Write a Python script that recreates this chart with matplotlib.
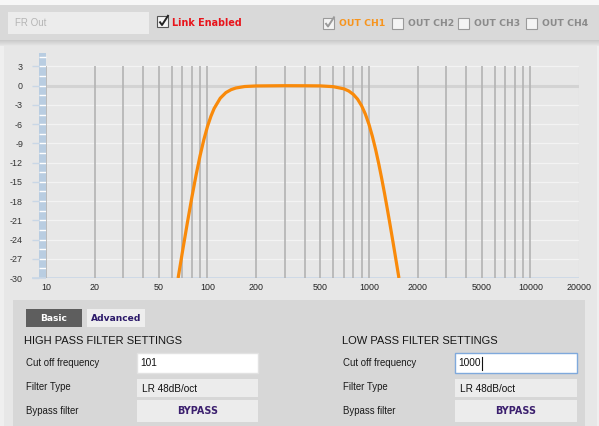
import numpy as np
import matplotlib
matplotlib.use("Agg")
import matplotlib.pyplot as plt
from matplotlib.patches import Rectangle
from matplotlib.transforms import blended_transform_factory

# ---------------- data ----------------
# Response of HPF 101 Hz + LPF 1000 Hz (LR 48 dB/oct)
freq_hz = [65.8, 70, 75, 80, 85, 90, 95, 100, 105, 110, 120, 130, 140, 150, 170,
           200, 300, 400, 500, 600, 700, 750, 800, 850, 900, 950, 1000, 1050,
           1100, 1150, 1200, 1250, 1300, 1350, 1400, 1450, 1500, 1534]
gain_db = [-30.0, -25.9, -21.45, -17.45, -13.94, -10.92, -8.41, -6.37, -4.78, -3.55,
           -1.95, -1.08, -0.62, -0.36, -0.13, -0.04, 0.0, -0.01, -0.03, -0.15,
           -0.49, -0.83, -1.35, -2.09, -3.11, -4.42, -6.02, -7.88, -9.95, -12.17,
           -14.49, -16.85, -19.24, -21.61, -23.95, -26.25, -28.51, -30.0]

grid_freqs = [10, 20, 30, 40, 50, 60, 70, 80, 90, 100,
              200, 300, 400, 500, 600, 700, 800, 900, 1000,
              2000, 3000, 4000, 5000, 6000, 7000, 8000, 9000, 10000]
xtick_vals = [10, 20, 50, 100, 200, 500, 1000, 2000, 5000, 10000, 20000]
xtick_labels = ["10", "20", "50", "100", "200", "500", "1000", "2000", "5000", "10000", "20000"]
ytick_vals = [3, 0, -3, -6, -9, -12, -15, -18, -21, -24, -27, -30]
ytick_labels = [str(v) for v in ytick_vals]
channels = ["OUT CH1", "OUT CH2", "OUT CH3", "OUT CH4"]
channel_on = [True, False, False, False]
hp_settings = ["101", "LR 48dB/oct", "BYPASS"]
lp_settings = ["1000", "LR 48dB/oct", "BYPASS"]
row_labels = ["Cut off frequency", "Filter Type", "Bypass filter"]

W, H = 599, 426
fig = plt.figure(figsize=(W / 100, H / 100), dpi=100)
fig.patch.set_facecolor("#efefef")

SANS = ["Liberation Sans", "DejaVu Sans"]
BOLD = ["DejaVu Sans"]

# ---------------- background / UI layer (pixel coordinates) ----------------
bg = fig.add_axes([0, 0, 1, 1], zorder=0)
bg.set_xlim(0, W)
bg.set_ylim(H, 0)
bg.axis("off")

def rect(x0, y0, x1, y1, fc, ec="none", lw=0.8, z=1):
    bg.add_patch(Rectangle((x0, y0), x1 - x0, y1 - y0, facecolor=fc, edgecolor=ec,
                           linewidth=lw, zorder=z))

rect(0, 0, W, H, "#efefef", z=0)
rect(4, 40, 597, H, "#e7e7e7", z=0.5)
rect(0, 0, W, 5, "#f7f7f7")
rect(0, 5, W, 40, "#d9d9d9")
# shadow under top bar
grad = np.linspace(0, 1, 20).reshape(-1, 1)
bg.imshow(grad, extent=(0, W, 46, 40), cmap=matplotlib.colors.LinearSegmentedColormap.from_list(
    "sh", ["#c9c9c9", "#e7e7e7"]), aspect="auto", zorder=1.5)
bg.set_xlim(0, W)
bg.set_ylim(H, 0)

# FR Out box
rect(8, 12, 149, 34, "#ececec")
bg.text(15, 23.5, "FR Out", family=SANS, fontsize=7, color="#b5b5b5", va="center", ha="left", zorder=3)

def checkbox(x0, y0, checked, ec, ck):
    rect(x0, y0, x0 + 11, y0 + 11, "#f4f4f4", ec=ec, lw=0.8, z=2)
    if checked:
        bg.plot([x0 + 2.5, x0 + 5, x0 + 11.5], [y0 + 5.5, y0 + 9, y0 - 1], color=ck,
                lw=1.4, zorder=3, solid_capstyle="butt")

checkbox(157, 16, True, "#555555", "#222222")
bg.text(172, 22.5, "Link Enabled", family=BOLD, weight="bold", fontsize=6.9,
        color="#e8141b", va="center", ha="left", zorder=3)

ch_x = [323, 392, 458, 526]
for cx, name, on in zip(ch_x, channels, channel_on):
    checkbox(cx, 17.5, on, "#9a9a9a", "#9a9a9a")
    bg.text(cx + 16, 23.5, name, family=BOLD, weight="bold", fontsize=6.7,
            color="#f7941d" if on else "#8a8a8a", va="center", ha="left", zorder=3)

# bottom settings panel
rect(13, 300, 585, H, "#d7d7d7", z=1)
rect(26, 309, 82, 327, "#5e5e5e", z=2)
bg.text(54, 318.5, "Basic", family=BOLD, weight="bold", fontsize=6.6, color="white",
        ha="center", va="center", zorder=3)
rect(87, 309, 145, 327, "#eeeeee", z=2)
bg.text(116, 318.5, "Advanced", family=BOLD, weight="bold", fontsize=6.6, color="#2c1a6a",
        ha="center", va="center", zorder=3)

bg.text(24, 341, "HIGH PASS FILTER SETTINGS", family=SANS, fontsize=8, color="#151515",
        ha="left", va="center", zorder=3)
bg.text(342, 341, "LOW PASS FILTER SETTINGS", family=SANS, fontsize=8, color="#151515",
        ha="left", va="center", zorder=3)

row_y = [(353, 373), (379, 397), (400, 422)]
for (lx, bx0, bx1, vals, focus) in [(26, 137, 258, hp_settings, False),
                                    (343, 455, 577, lp_settings, True)]:
    for i, ((y0, y1), lab, val) in enumerate(zip(row_y, row_labels, vals)):
        yc = (y0 + y1) / 2
        bg.text(lx, yc - 0.5, lab, family=SANS, fontsize=6.9, color="#1a1a1a",
                ha="left", va="center", zorder=3)
        if i == 0:
            rect(bx0, y0, bx1, y1, "white", ec="#7fa9dc" if focus else "#e2e2e2", lw=1.0, z=2)
            bg.text(bx0 + 3.5, yc, val, family=SANS, fontsize=7.3, color="#111111",
                    ha="left", va="center", zorder=3)
        elif i == 1:
            rect(bx0, y0, bx1, y1, "#ececec", z=2)
            bg.text(bx0 + 5, yc + 0.5, val, family=SANS, fontsize=7.2, color="#111111",
                    ha="left", va="center", zorder=3)
        else:
            rect(bx0, y0, bx1, y1, "#ececec", z=2)
            bg.text((bx0 + bx1) / 2, yc, val, family=BOLD, weight="bold", fontsize=6.9,
                    color="#3b1f6e", ha="center", va="center", zorder=3)
# text cursor in focused LP box
bg.plot([482, 482], [356.5, 369.5], color="#111111", lw=0.8, zorder=3)

# ---------------- chart ----------------
L, R, T, B = 46, 579, 53, 278
ax = fig.add_axes([L / W, 1 - B / H, (R - L) / W, (B - T) / H], zorder=2)
ax.patch.set_alpha(0)
ax.set_xscale("log")
ax.set_xlim(10, 20000)
ax.set_ylim(-30, 5.1)
for s in ax.spines.values():
    s.set_visible(False)
ax.minorticks_off()

ymin, ymax = min(ytick_vals), max(ytick_vals)
# horizontal faint grid
ax.hlines([v for v in ytick_vals if v not in (0, ymin)], 10, 20000, color="#f3f3f3", lw=0.9, zorder=1)
ax.hlines(0, 10, 20000, color="#d3d3d3", lw=2.2, zorder=1.2)
ax.hlines(ymin, 10, 20000, color="#c9d7e6", lw=1.2, zorder=1.2)
ax.vlines(20000, ymin, ymax, color="#dcdcdc", lw=0.9, zorder=1)
# vertical grid
ax.vlines(grid_freqs, ymin, ymax, color="#b3b3b3", lw=1.2, zorder=1.5)

# blue scale bar at the left
trans = blended_transform_factory(ax.transAxes, ax.transData)
bw = 7 / (R - L)
ax.add_patch(Rectangle((-bw, ymin), bw, 5.1 - ymin, transform=trans, facecolor="#b9cde1",
                       edgecolor="none", clip_on=False, zorder=1.1))
ax.hlines(np.arange(ymin + 1.5, 5.0, 1.5), -bw, 0, transform=trans, color="white", lw=1.0,
          clip_on=False, zorder=1.3)
ax.hlines(ytick_vals, -14 / (R - L), -bw, transform=trans, color="#c9d7e6", lw=1.0,
          clip_on=False, zorder=1.3)
ax.hlines(ymin, -14 / (R - L), 0, transform=trans, color="#c9d7e6", lw=1.2,
          clip_on=False, zorder=1.3)

# response curve
ax.plot(freq_hz, gain_db, color="#f98a0a", lw=2.3, zorder=3, solid_capstyle="butt")

ax.set_xticks(xtick_vals, xtick_labels)
ax.set_yticks(ytick_vals, ytick_labels)
ax.tick_params(axis="x", length=0, pad=3.5, labelsize=6.4, labelcolor="#222222")
ax.tick_params(axis="y", length=0, pad=16.5, labelsize=6.4, labelcolor="#333333")
for lab in ax.get_xticklabels() + ax.get_yticklabels():
    lab.set_family(SANS)

fig.savefig("out.png", dpi=100, facecolor=fig.get_facecolor())
